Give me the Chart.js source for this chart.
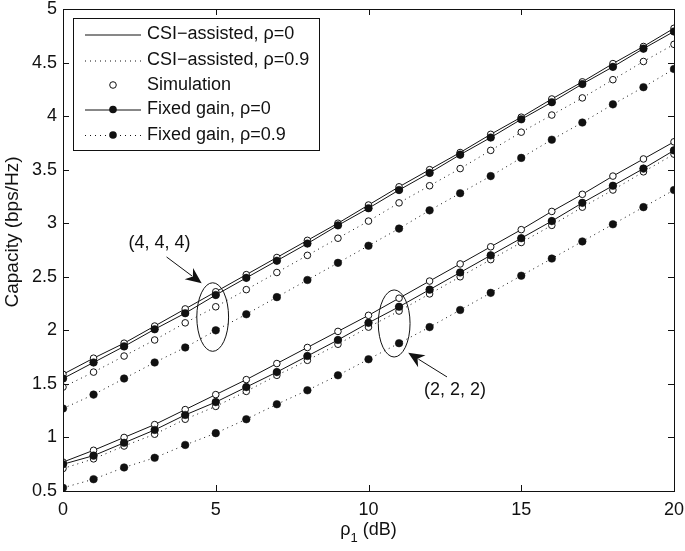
<!DOCTYPE html>
<html>
<head>
<meta charset="utf-8">
<script src="https://cdn.jsdelivr.net/npm/chart.js@4.4.1/dist/chart.umd.min.js"></script>
<style>
  html, body { margin: 0; padding: 0; background: #fff; }
  #wrap { width: 685px; height: 551px; }
</style>
</head>
<body>
<div id="wrap"><canvas id="c" width="685" height="551"></canvas></div>
<script>
// ---- data ----
const xValues = [0,1,2,3,4,5,6,7,8,9,10,11,12,13,14,15,16,17,18,19,20];
const xTicks = [0,5,10,15,20];
const yTicks = [0.5,1,1.5,2,2.5,3,3.5,4,4.5,5];

// (4, 4, 4) group
const csi0_444   = [1.59,1.74,1.88,2.04,2.20,2.36,2.52,2.68,2.84,3.00,3.17,3.34,3.50,3.66,3.83,3.99,4.16,4.32,4.49,4.65,4.82];
const fixed0_444 = [1.55,1.70,1.85,2.01,2.16,2.33,2.49,2.65,2.81,2.98,3.14,3.31,3.47,3.64,3.80,3.97,4.13,4.30,4.46,4.63,4.79];
const csi09_444  = [1.47,1.61,1.76,1.91,2.07,2.22,2.38,2.54,2.70,2.86,3.02,3.19,3.35,3.51,3.68,3.85,4.01,4.17,4.34,4.51,4.67];
const fixed09_444= [1.27,1.40,1.55,1.70,1.84,2.00,2.15,2.31,2.47,2.63,2.79,2.95,3.12,3.28,3.44,3.61,3.78,3.94,4.11,4.27,4.44];

// (2, 2, 2) group
const csi0_222   = [0.77,0.88,1.00,1.12,1.26,1.40,1.54,1.69,1.84,1.99,2.14,2.30,2.46,2.62,2.78,2.94,3.11,3.27,3.44,3.60,3.76];
const fixed0_222 = [0.75,0.83,0.95,1.07,1.21,1.33,1.47,1.61,1.76,1.91,2.07,2.22,2.38,2.54,2.70,2.86,3.02,3.19,3.35,3.51,3.68];
const csi09_222  = [0.71,0.80,0.92,1.03,1.17,1.29,1.43,1.58,1.72,1.87,2.03,2.18,2.34,2.50,2.66,2.82,2.98,3.15,3.31,3.48,3.645];
const fixed09_222= [0.53,0.61,0.72,0.81,0.93,1.04,1.17,1.31,1.44,1.58,1.73,1.88,2.03,2.19,2.35,2.51,2.67,2.83,2.99,3.15,3.31];

const legendLabels = ['CSI\u2212assisted, \u03c1=0','CSI\u2212assisted, \u03c1=0.9','Simulation','Fixed gain, \u03c1=0','Fixed gain, \u03c1=0.9'];
const yTitle = 'Capacity (bps/Hz)';
const xTitleMain = '\u03c1', xTitleSub = '1', xTitleRest = ' (dB)';
const groupLabels = ['(4, 4, 4)', '(2, 2, 2)'];
// ---------------------------------------

const pts = arr => arr.map((v,i)=>({x:xValues[i], y:v}));
const INK = '#111';
const DOT = [1,4];
const FONT = '"Liberation Sans", Arial, Helvetica, sans-serif';

function lineDs(arr, dashed) {
  return { data: pts(arr), borderColor: INK, borderWidth: 1, borderDash: dashed ? DOT : [],
           pointRadius: 0, fill: false, tension: 0, order: 3 };
}
function simDs(arr) {
  return { data: pts(arr), showLine: false, pointStyle: 'circle', pointRadius: 3.3,
           pointBorderWidth: 1, pointBorderColor: INK, pointBackgroundColor: '#fff', order: 2 };
}
function fixedDs(arr, dashed) {
  return { data: pts(arr), borderColor: INK, borderWidth: 1, borderDash: dashed ? DOT : [],
           pointRadius: 3.8, pointBorderWidth: 0.5, pointBorderColor: INK, pointBackgroundColor: INK,
           fill: false, tension: 0, order: 1 };
}

const datasets = [
  lineDs(csi0_444, false), lineDs(csi0_222, false),
  lineDs(csi09_444, true), lineDs(csi09_222, true),
  simDs(csi0_444), simDs(csi0_222), simDs(csi09_444), simDs(csi09_222),
  simDs(fixed0_444), simDs(fixed0_222),
  fixedDs(fixed0_444, false), fixedDs(fixed0_222, false),
  fixedDs(fixed09_444, true), fixedDs(fixed09_222, true)
];

const decor = {
  id: 'decor',
  afterDraw(chart) {
    const ctx = chart.ctx;
    const a = chart.chartArea;
    const xs = chart.scales.x, ys = chart.scales.y;
    ctx.save();
    // box
    ctx.strokeStyle = INK; ctx.lineWidth = 1;
    ctx.strokeRect(Math.round(a.left)+0.5, Math.round(a.top)+0.5, Math.round(a.right-a.left), Math.round(a.bottom-a.top));
    // inward ticks
    const TL = 6;
    ctx.beginPath();
    xTicks.forEach(t => {
      const px = Math.round(xs.getPixelForValue(t)) + 0.5;
      ctx.moveTo(px, a.bottom); ctx.lineTo(px, a.bottom - TL);
      ctx.moveTo(px, a.top); ctx.lineTo(px, a.top + TL);
    });
    yTicks.forEach(t => {
      const py = Math.round(ys.getPixelForValue(t)) + 0.5;
      ctx.moveTo(a.left, py); ctx.lineTo(a.left + TL, py);
      ctx.moveTo(a.right, py); ctx.lineTo(a.right - TL, py);
    });
    ctx.stroke();

    // axis titles
    ctx.fillStyle = INK;
    ctx.font = '19px ' + FONT; ctx.textAlign = 'center'; ctx.textBaseline = 'middle';
    ctx.save(); ctx.translate(13, 232); ctx.rotate(-Math.PI/2); ctx.fillText(yTitle, 0, 0); ctx.restore();
    {
      ctx.font = '18px ' + FONT;
      const w1 = ctx.measureText(xTitleMain).width;
      const w3 = ctx.measureText(xTitleRest).width;
      ctx.font = '13px ' + FONT;
      const w2 = ctx.measureText(xTitleSub).width;
      const total = w1 + w2 + w3;
      let x0 = (a.left + a.right)/2 - total/2;
      const yb = 530;
      ctx.textAlign = 'left';
      ctx.font = '18px ' + FONT; ctx.fillText(xTitleMain, x0, yb);
      ctx.font = '13px ' + FONT; ctx.fillText(xTitleSub, x0 + w1, yb + 8);
      ctx.font = '18px ' + FONT; ctx.fillText(xTitleRest, x0 + w1 + w2, yb);
    }

    // ellipses, arrows, labels
    function ellipse(cx, cy, rxU, ryU) {
      const px = xs.getPixelForValue(cx), py = ys.getPixelForValue(cy);
      const rx = Math.abs(xs.getPixelForValue(cx + rxU) - px);
      const ry = Math.abs(ys.getPixelForValue(cy + ryU) - py);
      ctx.beginPath(); ctx.ellipse(px, py, rx, ry, 0, 0, Math.PI*2); ctx.stroke();
    }
    function arrow(x1, y1, x2, y2) {
      const p1 = [xs.getPixelForValue(x1), ys.getPixelForValue(y1)];
      const p2 = [xs.getPixelForValue(x2), ys.getPixelForValue(y2)];
      const ang = Math.atan2(p2[1]-p1[1], p2[0]-p1[0]);
      const L = 16, W = 7;
      ctx.beginPath(); ctx.moveTo(p1[0], p1[1]);
      ctx.lineTo(p2[0] - (L-4)*Math.cos(ang), p2[1] - (L-4)*Math.sin(ang)); ctx.stroke();
      ctx.beginPath();
      ctx.moveTo(p2[0], p2[1]);
      ctx.lineTo(p2[0] - L*Math.cos(ang) + W*Math.sin(ang), p2[1] - L*Math.sin(ang) - W*Math.cos(ang));
      ctx.lineTo(p2[0] - (L-5)*Math.cos(ang), p2[1] - (L-5)*Math.sin(ang));
      ctx.lineTo(p2[0] - L*Math.cos(ang) - W*Math.sin(ang), p2[1] - L*Math.sin(ang) + W*Math.cos(ang));
      ctx.closePath(); ctx.fillStyle = INK; ctx.fill();
    }
    function label(txt, x, y) {
      ctx.fillStyle = INK; ctx.font = '18px ' + FONT; ctx.textAlign = 'center'; ctx.textBaseline = 'middle';
      ctx.fillText(txt, xs.getPixelForValue(x), ys.getPixelForValue(y));
    }
    ctx.strokeStyle = INK; ctx.lineWidth = 1;
    ellipse(4.9, 2.124, 0.52, 0.32);
    ellipse(10.84, 2.064, 0.52, 0.313);
    arrow(3.39, 2.685, 4.54, 2.44);
    arrow(12.57, 1.565, 11.3, 1.79);
    label(groupLabels[0], 3.16, 2.816);
    label(groupLabels[1], 12.83, 1.443);

    // legend
    const lx = 73.5, ly = 18.5, lw = 246, lh = 132;
    ctx.fillStyle = '#fff'; ctx.fillRect(lx, ly, lw, lh);
    ctx.strokeStyle = INK; ctx.lineWidth = 1; ctx.strokeRect(lx, ly, lw, lh);
    const rows = [34.5, 60.5, 85, 109.5, 135];
    ctx.font = '18px ' + FONT; ctx.textAlign = 'left'; ctx.textBaseline = 'middle';
    rows.forEach((ry, i) => {
      const x1 = 85, x2 = 141, mid = 113;
      ctx.strokeStyle = INK; ctx.lineWidth = 1;
      if (i !== 2) {
        ctx.setLineDash((i === 1 || i === 4) ? DOT : []);
        ctx.beginPath(); ctx.moveTo(x1, ry + 0.5); ctx.lineTo(x2, ry + 0.5); ctx.stroke();
        ctx.setLineDash([]);
      }
      if (i === 2) {
        ctx.beginPath(); ctx.arc(mid, ry, 3.3, 0, Math.PI*2); ctx.fillStyle = '#fff'; ctx.fill(); ctx.stroke();
      }
      if (i === 3 || i === 4) {
        ctx.beginPath(); ctx.arc(mid, ry, 3.8, 0, Math.PI*2); ctx.fillStyle = INK; ctx.fill();
      }
      ctx.fillStyle = INK;
      ctx.fillText(legendLabels[i], 147, ry);
    });
    ctx.restore();
  }
};

new Chart(document.getElementById('c'), {
  type: 'line',
  data: { datasets },
  options: {
    responsive: false,
    animation: false,
    devicePixelRatio: 1,
    layout: { padding: { top: 9, right: 11, left: 0, bottom: 0 } },
    plugins: { legend: { display: false }, tooltip: { enabled: false } },
    scales: {
      x: {
        type: 'linear', min: 0, max: 20,
        afterBuildTicks: s => { s.ticks = xTicks.map(v => ({value: v})); },
        afterFit: s => { s.height = 60; s.paddingLeft = 0; s.paddingRight = 0; },
        ticks: { color: INK, font: { family: FONT, size: 18 }, padding: 8, maxRotation: 0, callback: v => String(v) },
        grid: { display: false, drawTicks: false },
        border: { display: false },
        title: { display: false }
      },
      y: {
        type: 'linear', min: 0.5, max: 5,
        afterBuildTicks: s => { s.ticks = yTicks.map(v => ({value: v})); },
        afterFit: s => { s.width = 63; s.paddingTop = 0; s.paddingBottom = 0; },
        ticks: { color: INK, font: { family: FONT, size: 18 }, padding: 6, callback: v => String(v) },
        grid: { display: false, drawTicks: false },
        border: { display: false },
        title: { display: false }
      }
    }
  },
  plugins: [decor]
});
</script>
</body>
</html>
